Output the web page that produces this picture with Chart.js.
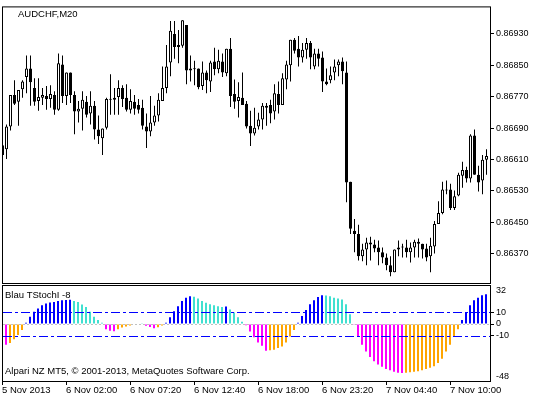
<!DOCTYPE html>
<html><head><meta charset="utf-8">
<script src="https://cdn.jsdelivr.net/npm/chart.js@4.4.0/dist/chart.umd.min.js"></script>
<style>
html,body{margin:0;padding:0;background:#fff;}
#wrap{position:relative;width:539px;height:399px;background:#fff;}
canvas{position:absolute;left:0;top:0;}
</style></head><body>
<div id="wrap"><canvas id="c1" width="539" height="399"></canvas><canvas id="c2" width="539" height="399"></canvas></div>
<script>
const symbolTitle = "AUDCHF,M20";
const indicatorTitle = "Blau TStochI -8";
const footerText = "Alpari NZ MT5, \u00A9 2001-2013, MetaQuotes Software Corp.";

const open = [0.86646,0.86636,0.86694,0.86774,0.86757,0.86789,0.86820,0.86842,0.86792,0.86759,
0.86767,0.86772,0.86764,0.86774,0.86737,0.86852,0.86772,0.86832,0.86774,0.86732,
0.86739,0.86757,0.86727,0.86747,0.86686,0.86664,0.86691,0.86764,0.86762,0.86769,
0.86792,0.86767,0.86737,0.86757,0.86749,0.86742,0.86694,0.86681,0.86704,0.86722,
0.86759,0.86792,0.86857,0.86930,0.86902,0.86900,0.86953,0.86837,0.86842,0.86842,
0.86797,0.86832,0.86809,0.86860,0.86840,0.86860,0.86830,0.86892,0.86777,0.86759,
0.86767,0.86752,0.86696,0.86676,0.86694,0.86712,0.86747,0.86749,0.86732,0.86777,
0.86749,0.86814,0.86850,0.86915,0.86892,0.86870,0.86890,0.86907,0.86847,0.86880,
0.86870,0.86809,0.86812,0.86832,0.86850,0.86860,0.86832,0.86553,0.86428,0.86420,
0.86363,0.86380,0.86398,0.86393,0.86385,0.86373,0.86360,0.86340,0.86322,0.86380,
0.86385,0.86385,0.86373,0.86385,0.86400,0.86395,0.86383,0.86363,0.86388,0.86445,
0.86473,0.86533,0.86533,0.86486,0.86518,0.86568,0.86583,0.86561,0.86671,0.86571,
0.86556,0.86609];
const high = [0.86651,0.86699,0.86774,0.86812,0.86787,0.86812,0.86875,0.86875,0.86817,0.86817,
0.86792,0.86797,0.86799,0.86784,0.86880,0.86875,0.86832,0.86832,0.86784,0.86759,
0.86784,0.86772,0.86784,0.86759,0.86722,0.86689,0.86767,0.86827,0.86792,0.86812,
0.86799,0.86802,0.86789,0.86774,0.86764,0.86762,0.86727,0.86772,0.86747,0.86779,
0.86847,0.86902,0.86963,0.86963,0.86940,0.86965,0.86953,0.86875,0.86862,0.86842,
0.86860,0.86837,0.86862,0.86895,0.86890,0.86880,0.86892,0.86920,0.86814,0.86807,
0.86832,0.86759,0.86734,0.86742,0.86729,0.86754,0.86754,0.86762,0.86802,0.86809,
0.86830,0.86862,0.86915,0.86920,0.86925,0.86907,0.86920,0.86912,0.86892,0.86892,
0.86885,0.86842,0.86847,0.86865,0.86865,0.86870,0.86860,0.86553,0.86458,0.86443,
0.86395,0.86410,0.86413,0.86405,0.86403,0.86385,0.86370,0.86363,0.86380,0.86403,
0.86395,0.86405,0.86398,0.86405,0.86408,0.86395,0.86395,0.86410,0.86453,0.86503,
0.86553,0.86556,0.86548,0.86531,0.86576,0.86604,0.86591,0.86674,0.86686,0.86594,
0.86621,0.86636];
const low = [0.86616,0.86611,0.86684,0.86749,0.86696,0.86767,0.86779,0.86747,0.86747,0.86734,
0.86749,0.86737,0.86742,0.86724,0.86734,0.86754,0.86749,0.86754,0.86674,0.86704,
0.86684,0.86717,0.86699,0.86661,0.86649,0.86621,0.86686,0.86724,0.86724,0.86724,
0.86744,0.86732,0.86727,0.86724,0.86727,0.86686,0.86639,0.86669,0.86696,0.86707,
0.86759,0.86779,0.86822,0.86867,0.86855,0.86895,0.86802,0.86809,0.86799,0.86789,
0.86787,0.86779,0.86782,0.86825,0.86830,0.86820,0.86822,0.86744,0.86739,0.86717,
0.86749,0.86689,0.86644,0.86671,0.86686,0.86686,0.86696,0.86702,0.86712,0.86727,
0.86749,0.86789,0.86809,0.86880,0.86847,0.86857,0.86867,0.86840,0.86840,0.86847,
0.86782,0.86799,0.86804,0.86812,0.86822,0.86802,0.86501,0.86420,0.86373,0.86352,
0.86350,0.86340,0.86352,0.86373,0.86340,0.86345,0.86327,0.86312,0.86322,0.86363,
0.86360,0.86360,0.86347,0.86360,0.86360,0.86357,0.86350,0.86322,0.86370,0.86445,
0.86470,0.86521,0.86481,0.86481,0.86516,0.86538,0.86551,0.86551,0.86571,0.86528,
0.86521,0.86571];
const close = [0.86621,0.86694,0.86774,0.86752,0.86787,0.86809,0.86842,0.86807,0.86757,0.86769,
0.86774,0.86764,0.86777,0.86737,0.86855,0.86772,0.86832,0.86774,0.86732,0.86739,
0.86762,0.86724,0.86747,0.86686,0.86669,0.86689,0.86764,0.86762,0.86767,0.86792,
0.86764,0.86737,0.86759,0.86739,0.86737,0.86696,0.86681,0.86704,0.86722,0.86762,
0.86792,0.86847,0.86938,0.86897,0.86897,0.86965,0.86837,0.86842,0.86840,0.86794,
0.86832,0.86812,0.86857,0.86840,0.86862,0.86832,0.86892,0.86772,0.86757,0.86769,
0.86749,0.86694,0.86676,0.86691,0.86712,0.86747,0.86742,0.86727,0.86779,0.86749,
0.86817,0.86852,0.86915,0.86887,0.86870,0.86890,0.86907,0.86870,0.86880,0.86867,
0.86809,0.86802,0.86825,0.86847,0.86860,0.86835,0.86551,0.86433,0.86420,0.86363,
0.86380,0.86398,0.86393,0.86383,0.86373,0.86360,0.86340,0.86322,0.86380,0.86385,
0.86388,0.86373,0.86385,0.86400,0.86395,0.86380,0.86360,0.86390,0.86445,0.86473,
0.86533,0.86531,0.86486,0.86516,0.86571,0.86583,0.86561,0.86671,0.86571,0.86551,
0.86609,0.86619];
const stoch = [-16,-17.5,-16.1,-12.8,-9.2,-5,1,6.1,10.3,13,
15.8,17.2,18.1,18.6,19.4,20,20.2,20.4,19.4,18.6,
16.4,14.4,10.3,6.1,3.3,1,-4.4,-5.6,-6,-4.4,
-3,-2.2,-1.2,-0.5,0.5,0.3,-1.5,-2.5,-3.5,-2.8,
-1.2,1,5.6,10.8,15,19.4,22.2,23.3,23,21.4,
19.4,17.8,16.7,15.8,15,14.4,14.8,12.2,9.7,5.6,
2,-1,-6.4,-11.1,-15.6,-18.3,-22.5,-22,-21.7,-20.3,
-18.9,-15.6,-10.6,-5,1.1,6.7,11.7,16.7,20,22.8,
24.2,24,23.3,22.2,21.4,20.6,16.7,8.3,-0.3,-10.6,
-17.5,-23.1,-27.8,-31.4,-34.2,-36.1,-37.8,-38.9,-40.3,-41,
-41.2,-41.1,-40.6,-40.3,-39.7,-38.9,-37.8,-36.9,-35.6,-32.8,
-29.2,-23.1,-17.5,-10.6,-4.4,3.3,9.7,15.8,20,22.2,
24.2,25];

const priceTicks = [0.86930,0.86850,0.86770,0.86690,0.86610,0.86530,0.86450,0.86370];
const stochTicks = [10,0,-10];
const stochEdgeTicks = [32,-48];
const stochLevels = [10,-10];
const tickBars = [0,16,32,48,64,80,96,112];
const tickLabels = ["5 Nov 2013","6 Nov 02:00","6 Nov 07:20","6 Nov 12:40","6 Nov 18:00","6 Nov 23:20","7 Nov 04:40","7 Nov 10:00"];

// categories: bar open times (M20 bars)
const months = ["Jan","Feb","Mar","Apr","May","Jun","Jul","Aug","Sep","Oct","Nov","Dec"];
const startTime = new Date(2013,10,5,20,40);
const categories = open.map((_, i) => {
  const d = new Date(startTime.getTime() + i*20*60000);
  return d.getDate()+" "+months[d.getMonth()]+" "+String(d.getHours()).padStart(2,"0")+":"+String(d.getMinutes()).padStart(2,"0");
});

const FONT = "'Liberation Sans', Arial, sans-serif";
const idx = categories.map((_, i) => i);

const BLUE = "#0000FF", TURQ = "#40E0D0", MAGENTA = "#FF00FF", ORANGE = "#FFA500";
const stochColors = stoch.map((v, i) => {
  const prev = i > 0 ? stoch[i-1] : v;
  if (v > 0) return v >= prev ? BLUE : TURQ;
  return v < prev ? MAGENTA : ORANGE;
});

const framePlugin = {
  id: "frame",
  afterDraw(chart) {
    const {ctx, chartArea: a} = chart;
    ctx.save();
    ctx.strokeStyle = "#000"; ctx.lineWidth = 1; ctx.setLineDash([]);
    ctx.strokeRect(a.left - 0.5, a.top - 0.5, a.right - a.left + 1, a.bottom - a.top + 1);
    ctx.restore();
  }
};

const title1Plugin = {
  id: "title1",
  afterDraw(chart) {
    const {ctx, chartArea: a} = chart;
    ctx.save();
    ctx.fillStyle = "#000"; ctx.font = "9.5px " + FONT; ctx.textBaseline = "alphabetic"; ctx.textAlign = "left";
    ctx.fillText(symbolTitle, a.left + 15, a.top + 10);
    ctx.restore();
  }
};

const stochPlugin = {
  id: "stochDeco",
  afterDatasetsDraw(chart) {
    const {ctx, chartArea: a, scales: {y}} = chart;
    ctx.save();
    ctx.beginPath(); ctx.rect(a.left, a.top, a.right - a.left, a.bottom - a.top); ctx.clip();
    ctx.lineWidth = 1;
    ctx.strokeStyle = "#C0C0C0"; ctx.setLineDash([2,2]);
    let py = Math.round(y.getPixelForValue(0)) + 0.5;
    ctx.beginPath(); ctx.moveTo(a.left, py); ctx.lineTo(a.right, py); ctx.stroke();
    ctx.strokeStyle = BLUE; ctx.setLineDash([9,3,3,3]);
    stochLevels.forEach(l => {
      const p = Math.round(y.getPixelForValue(l)) + 0.5;
      ctx.beginPath(); ctx.moveTo(a.left, p); ctx.lineTo(a.right, p); ctx.stroke();
    });
    ctx.restore();
  },
  afterDraw(chart) {
    const {ctx, chartArea: a, scales: {y}} = chart;
    ctx.save();
    ctx.fillStyle = "#000"; ctx.font = "9.5px " + FONT; ctx.textAlign = "left"; ctx.textBaseline = "alphabetic";
    ctx.fillText(indicatorTitle, a.left + 2, a.top + 12);
    ctx.fillText(footerText, a.left + 2, a.bottom - 7);
    ctx.font = "9px " + FONT; ctx.textBaseline = "middle";
    ctx.fillText(String(stochEdgeTicks[0]), y.left + 6, y.getPixelForValue(stochEdgeTicks[0]) + 5);
    ctx.fillText(String(stochEdgeTicks[1]), y.left + 6, y.getPixelForValue(stochEdgeTicks[1]) - 4);
    ctx.restore();
  }
};

new Chart(document.getElementById("c1"), {
  type: "bar",
  data: {
    datasets: [
      { label: "wick", data: idx.map(i => ({x: i, y: [low[i], high[i]]})),
        backgroundColor: "#000", borderWidth: 0, barThickness: 1, grouped: false, order: 2, inflateAmount: 0 },
      { label: "body", data: idx.map(i => ({x: i, y: [open[i], close[i]]})),
        backgroundColor: idx.map(i => close[i] >= open[i] ? "#FFFFFF" : "#000000"),
        borderColor: "#000", borderWidth: 1, borderSkipped: false, barThickness: 3,
        grouped: false, order: 1, inflateAmount: 0, minBarLength: 1 }
    ]
  },
  options: {
    responsive: false, animation: false, devicePixelRatio: 1,
    layout: { padding: { left: 3, top: 3, right: 0, bottom: 116 } },
    plugins: { legend: { display: false }, tooltip: { enabled: false } },
    scales: {
      x: { type: "linear", min: 0.125, max: 121.875, offset: false, grid: { offset: false }, display: false },
      y: { position: "right", min: 0.862947, max: 0.869978,
        afterFit: s => { s.width = 49; },
        afterBuildTicks: s => { s.ticks = priceTicks.map(v => ({value: v})); },
        ticks: { autoSkip: false, color: "#000", padding: 2, font: { family: FONT, size: 9 }, callback: v => Number(v).toFixed(5) },
        grid: { drawOnChartArea: false, drawTicks: true, tickLength: 4, color: "#000", lineWidth: 1 },
        border: { display: false } }
    }
  },
  plugins: [framePlugin, title1Plugin]
});

new Chart(document.getElementById("c2"), {
  type: "bar",
  data: {
    datasets: [
      { label: indicatorTitle, data: idx.map(i => ({x: i, y: stoch[i]})),
        backgroundColor: stochColors, borderWidth: 0, barThickness: 2, grouped: false, inflateAmount: 0 }
    ]
  },
  options: {
    responsive: false, animation: false, devicePixelRatio: 1,
    layout: { padding: { left: 3, top: 286, right: 0, bottom: 0 } },
    plugins: { legend: { display: false }, tooltip: { enabled: false } },
    scales: {
      x: { type: "linear", min: 0.25, max: 122, offset: false,
        afterFit: s => { s.height = 18; },
        afterBuildTicks: s => { s.ticks = tickBars.map(v => ({value: v})); },
        ticks: { autoSkip: false, maxRotation: 0, minRotation: 0, align: "start", padding: 0, color: "#000",
          font: { family: FONT, size: 9.5 }, callback: (v, i) => tickLabels[i] },
        grid: { offset: false, drawOnChartArea: false, drawTicks: true, tickLength: 4, color: "#000", lineWidth: 1 },
        border: { display: false } },
      y: { position: "right", min: -48, max: 32,
        afterFit: s => { s.width = 49; },
        afterBuildTicks: s => { s.ticks = stochTicks.map(v => ({value: v})); },
        ticks: { autoSkip: false, color: "#000", padding: 2, font: { family: FONT, size: 9 } },
        grid: { drawOnChartArea: false, drawTicks: true, tickLength: 4, color: "#000", lineWidth: 1 },
        border: { display: false } }
    }
  },
  plugins: [framePlugin, stochPlugin]
});
</script>
</body></html>
